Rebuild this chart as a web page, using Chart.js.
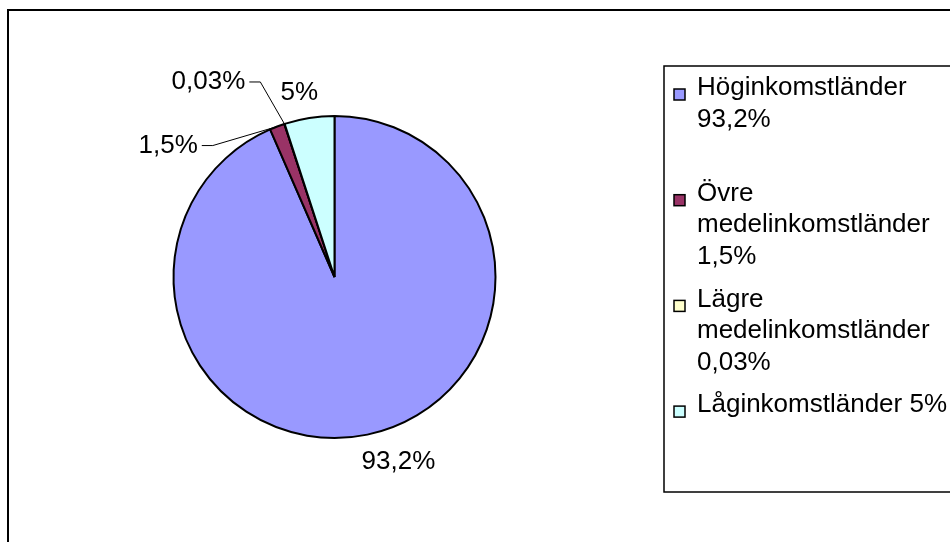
<!DOCTYPE html>
<html>
<head>
<meta charset="utf-8">
<script src="https://cdn.jsdelivr.net/npm/chart.js@4/dist/chart.umd.min.js"></script>
<style>
  html, body { margin: 0; padding: 0; background: #fff; }
  #c { display: block; }
</style>
</head>
<body>
<canvas id="c" width="950" height="542"></canvas>
<script>
// ---- data ----
const categories = ["Höginkomstländer", "Övre medelinkomstländer", "Lägre medelinkomstländer", "Låginkomstländer"];
const shares = [93.2, 1.5, 0.03, 5];
const sliceColors = ["#9999FF", "#993366", "#FFFFCC", "#CCFFFF"];

// ---- style / placement of labels (offsets from slice mid-point on the rim) ----
const labelOffsets = [[31, 27], [-109, 19], [-76, -42], [-10, -25]];
const labelLeaders = [false, true, true, false];
const FONT = '26px "Liberation Sans", Arial, sans-serif';

function fmt(v) { return String(v).replace('.', ',') + '%'; }

function wrap(ctx, text, maxW) {
  const words = text.split(' ');
  const lines = [];
  let cur = '';
  for (const w of words) {
    const t = cur ? cur + ' ' + w : w;
    if (cur && ctx.measureText(t).width > maxW) { lines.push(cur); cur = w; }
    else cur = t;
  }
  if (cur) lines.push(cur);
  return lines;
}

const decor = {
  id: 'decor',
  beforeDraw(chart) {
    const ctx = chart.ctx;
    ctx.save();
    ctx.fillStyle = '#fff';
    ctx.fillRect(0, 0, chart.width, chart.height);
    // outer frame
    ctx.strokeStyle = '#000';
    ctx.lineWidth = 2;
    ctx.strokeRect(8, 10, 960, 560);
    ctx.restore();
  },
  afterDraw(chart) {
    const ctx = chart.ctx;
    const meta = chart.getDatasetMeta(0);
    ctx.save();
    ctx.font = FONT;
    ctx.fillStyle = '#000';
    ctx.textBaseline = 'middle';
    ctx.textAlign = 'center';
    // data labels
    meta.data.forEach((arc, i) => {
      const p = arc.getProps(['x', 'y', 'startAngle', 'endAngle', 'outerRadius'], true);
      const mid = (p.startAngle + p.endAngle) / 2;
      const ax = p.x + Math.cos(mid) * p.outerRadius;
      const ay = p.y + Math.sin(mid) * p.outerRadius;
      const lx = ax + labelOffsets[i][0];
      const ly = ay + labelOffsets[i][1];
      const txt = fmt(shares[i]);
      ctx.fillText(txt, lx, ly);
      if (labelLeaders[i]) {
        const w = ctx.measureText(txt).width;
        const sx = lx + w / 2 + 4;
        ctx.beginPath();
        ctx.strokeStyle = '#000';
        ctx.lineWidth = 1;
        ctx.moveTo(sx, ly);
        ctx.lineTo(sx + 11, ly);
        ctx.lineTo(ax, ay);
        ctx.stroke();
      }
    });
    // legend box
    ctx.strokeStyle = '#000';
    ctx.lineWidth = 1.5;
    ctx.strokeRect(664, 66, 300, 426);
    ctx.textAlign = 'left';
    const textX = 697;
    const entryStep = 105.7;
    const lineH = 31.5;
    categories.forEach((name, i) => {
      const lines = wrap(ctx, name + ' ' + fmt(shares[i]), 252);
      const y0 = 88 + i * entryStep;
      // marker
      ctx.fillStyle = sliceColors[i];
      ctx.fillRect(674, y0 + 1, 11, 11);
      ctx.strokeStyle = '#000';
      ctx.lineWidth = 1.5;
      ctx.strokeRect(674, y0 + 1, 11, 11);
      ctx.fillStyle = '#000';
      lines.forEach((ln, k) => ctx.fillText(ln, textX, y0 + k * lineH));
    });
    ctx.restore();
  }
};

new Chart(document.getElementById('c'), {
  type: 'pie',
  data: {
    labels: categories,
    datasets: [{
      data: shares,
      backgroundColor: sliceColors,
      borderColor: '#000',
      borderWidth: 2
    }]
  },
  options: {
    responsive: false,
    animation: false,
    layout: { padding: { left: 172, right: 453, top: 115, bottom: 103 } },
    plugins: { legend: { display: false }, tooltip: { enabled: false } }
  },
  plugins: [decor]
});
</script>
</body>
</html>
